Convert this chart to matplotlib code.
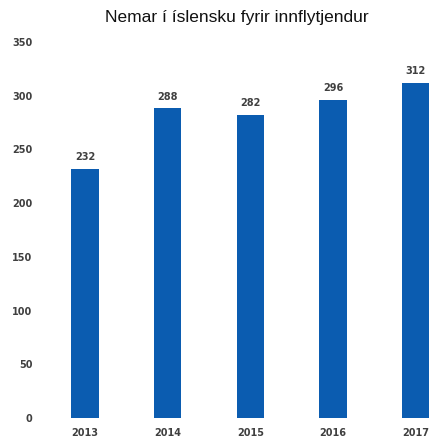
import matplotlib
matplotlib.use("Agg")
import matplotlib.pyplot as plt

years = ["2013", "2014", "2015", "2016", "2017"]
students = [232, 288, 282, 296, 312]
yticks = [0, 50, 100, 150, 200, 250, 300, 350]

fig = plt.figure(figsize=(4.29, 4.41), dpi=100)
fig.patch.set_facecolor("white")
ax = fig.add_axes([0.102, 0.0522, 0.963, 0.853])
x = list(range(len(years)))
bars = ax.bar(x, students, width=0.33, color="#0b5cb0")
ax.set_xlim(-0.5, 4.5)
ax.set_ylim(0, 350)
ax.set_yticks(yticks)
ax.set_yticklabels([str(t) for t in yticks])
ax.set_xticks(x)
ax.set_xticklabels(years)
for s in ax.spines.values():
    s.set_visible(False)
ax.tick_params(axis="both", length=0, labelsize=7, labelcolor="#404040")
ax.tick_params(axis="y", pad=8)
ax.tick_params(axis="x", pad=7)
for lab in ax.get_xticklabels() + ax.get_yticklabels():
    lab.set_fontweight("bold")
for xi, v in zip(x, students):
    ax.text(xi, v + 6, str(v), ha="center", va="bottom", fontsize=7,
            fontweight="bold", color="#404040")
fig.text(0.553, 0.96, "Nemar í íslensku fyrir innflytjendur", ha="center",
         va="center", fontsize=12.5, family="Liberation Sans", color="#111111")
fig.savefig("out.png", dpi=100)
